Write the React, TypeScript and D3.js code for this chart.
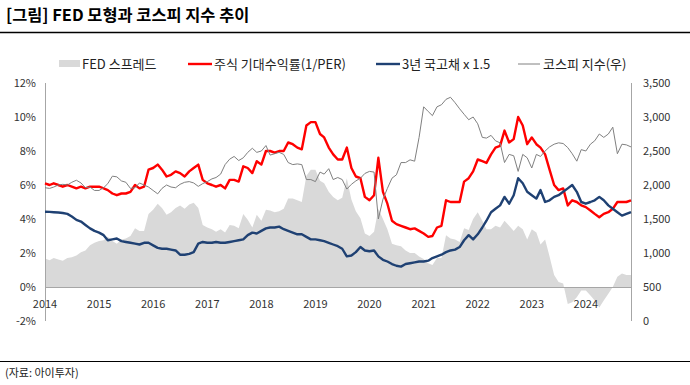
import React, { useEffect, useRef } from "react";
import * as d3 from "d3";

// monthly points, 2014-01 .. 2024-11
const months = d3.timeMonth.range(new Date(2014, 0, 1), new Date(2024, 11, 1));

const yearLabels = [2014, 2015, 2016, 2017, 2018, 2019, 2020, 2021, 2022, 2023, 2024];
const leftTicks = [-2, 0, 2, 4, 6, 8, 10, 12];
const rightTicks = [0, 500, 1000, 1500, 2000, 2500, 3000, 3500];

// 주식 기대수익률 (1/PER), %
const perYield = [
  6.1, 6.0, 6.1, 6.0, 5.9, 6.0, 5.9, 5.8, 5.9, 5.8, 5.9, 5.9,
  5.9, 5.8, 5.7, 5.5, 5.4, 5.5, 5.5, 5.6, 6.0, 5.8, 5.9, 6.9,
  7.0, 7.2, 6.9, 6.5, 6.6, 6.8, 6.7, 6.5, 6.8, 7.0, 7.2, 6.3,
  6.1, 6.0, 5.9, 6.0, 5.8, 6.3, 6.3, 6.2, 7.1, 7.0, 6.7, 7.4,
  7.2, 8.0, 8.0, 7.9, 8.0, 8.0, 8.5, 8.4, 8.2, 8.1, 9.5, 9.7,
  9.7, 9.0, 8.8, 8.2, 7.8, 7.5, 7.5, 8.2, 7.0, 6.5, 6.4, 5.3,
  5.1, 5.4, 7.6, 5.6, 4.9, 3.9, 3.7, 3.6, 3.5, 3.4, 3.45, 3.3,
  3.15, 2.95, 3.0, 3.5, 3.6, 5.1, 5.0, 5.0, 5.0, 6.2, 6.4, 6.8,
  7.5, 7.4, 7.3, 7.8, 8.2, 8.3, 9.2, 8.5, 8.7, 10.0, 9.5, 8.4,
  8.8, 8.4, 8.2, 7.8, 6.9, 6.0, 5.7, 5.8, 4.8, 5.1, 5.0, 4.8,
  4.7, 4.5, 4.3, 4.1, 4.3, 4.4, 4.6, 5.0, 5.0, 5.0, 5.1,
];

// 3년 국고채 x 1.5, %
const bond3y = [
  4.43, 4.42, 4.4, 4.38, 4.35, 4.3, 4.15, 3.95, 3.85, 3.65, 3.45, 3.3,
  3.2, 3.05, 2.75, 2.8, 2.85, 2.7, 2.65, 2.6, 2.55, 2.5, 2.6, 2.6,
  2.45, 2.3, 2.25, 2.25, 2.2, 2.15, 1.9, 1.9, 1.95, 2.05, 2.55, 2.65,
  2.6, 2.6, 2.65, 2.6, 2.6, 2.65, 2.7, 2.75, 2.8, 3.05, 3.2, 3.15,
  3.3, 3.45, 3.5, 3.5, 3.55, 3.4, 3.3, 3.2, 3.1, 3.1, 2.95, 2.8,
  2.8, 2.75, 2.7, 2.6, 2.5, 2.4, 2.25, 1.8, 1.85, 2.05, 2.35, 2.15,
  2.1, 2.15, 1.8, 1.6, 1.5, 1.35, 1.25, 1.2, 1.35, 1.4, 1.45, 1.5,
  1.5, 1.55, 1.7, 1.8, 1.9, 2.05, 2.15, 2.2, 2.35, 2.75, 3.05, 2.8,
  3.1, 3.5, 3.9, 4.4, 4.6, 4.8, 5.3, 4.9, 5.4, 6.4, 6.1, 5.6,
  5.4, 5.2, 5.7, 5.0, 5.1, 5.3, 5.4, 5.6, 5.8, 6.0, 5.6, 5.0,
  4.9, 5.0, 5.1, 5.3, 5.1, 4.8, 4.6, 4.4, 4.2, 4.3, 4.4,
];

// FED 스프레드, %
const fedSpread = [
  1.67, 1.58, 1.7, 1.62, 1.55, 1.7, 1.75, 1.85, 2.05, 2.15, 2.45, 2.6,
  2.7, 2.75, 2.95, 2.7, 2.55, 2.8, 2.85, 3.0, 3.45, 3.3, 3.3, 4.3,
  4.55, 4.9, 4.65, 4.25, 4.4, 4.65, 4.8, 4.6, 4.85, 4.95, 4.65, 3.65,
  3.5, 3.4, 3.25, 3.4, 3.2, 3.65, 3.6, 3.45, 4.3, 3.95, 3.5, 4.25,
  3.9, 4.55, 4.5, 4.4, 4.45, 4.6, 5.2, 5.2, 5.1, 5.0, 6.55, 6.9,
  6.9, 6.25, 6.1, 5.6, 5.3, 5.1, 5.25, 6.4, 5.15, 4.45, 4.05, 3.15,
  3.0, 3.25, 4.6, 4.0, 3.4, 2.55, 2.45, 2.4, 2.15, 2.0, 2.0, 1.8,
  1.65, 1.4, 1.3, 1.7, 1.7, 3.05, 2.85, 2.8, 2.65, 3.45, 3.35, 4.0,
  4.4, 3.9, 3.4, 3.4, 3.6, 3.5, 3.9, 3.6, 3.3, 3.6, 3.4, 2.8,
  3.4, 3.2, 2.5, 2.8, 1.8, 0.7, 0.3, 0.2, -1.0, -0.9, -0.6, -0.2,
  -0.2, -0.5, -0.8, -1.2, -0.8, -0.4, 0.0, 0.6, 0.8, 0.7, 0.7,
];

// 코스피 지수 (우)
const kospi = [
  1960, 1950, 1970, 2000, 2010, 2000, 2040, 2070, 2030, 1960, 1970, 1920,
  1920, 1960, 2020, 2130, 2120, 2060, 2040, 1950, 1960, 2030, 2000, 1970,
  1920, 1870, 1950, 2000, 1970, 1960, 2010, 2040, 2050, 2030, 1980, 2020,
  2050, 2090, 2110, 2160, 2300, 2380, 2420, 2360, 2400, 2480, 2540, 2480,
  2500, 2580, 2440, 2460, 2480, 2450, 2330, 2300, 2310, 2300, 2080, 2080,
  2050, 2190, 2160, 2240, 2080, 2110, 2080, 1940, 2010, 2060, 2100, 2170,
  2200, 2190, 1500, 1790, 1950, 2100, 2150, 2330, 2330, 2370, 2350, 2700,
  3150, 3080, 3020, 3150, 3180, 3260, 3290, 3210, 3120, 3040, 2960, 3000,
  2900, 2700, 2690, 2730, 2650, 2620, 2330, 2450, 2430, 2200, 2450, 2400,
  2250, 2450, 2420, 2500, 2560, 2600, 2620, 2610, 2550, 2460, 2350, 2520,
  2500, 2600, 2650, 2750, 2700, 2750, 2850, 2460, 2600, 2590, 2560,
];

const font = '"Noto Sans CJK KR", "Noto Sans", sans-serif';

function App() {
  const svgRef = useRef<SVGSVGElement>(null);

  useEffect(() => {
    const svg = d3.select(svgRef.current);
    svg.selectAll("*").remove();

    const plot = { left: 45, right: 631, top: 83, bottom: 321 };

    const x = d3
      .scaleTime()
      .domain([months[0], months[months.length - 1]])
      .range([plot.left, plot.right]);
    const yLeft = d3.scaleLinear().domain([-2, 12]).range([plot.bottom, plot.top]);
    const yRight = d3.scaleLinear().domain([0, 3500]).range([plot.bottom, plot.top]);

    // title + rules
    svg.append("text")
      .attr("x", 6)
      .attr("y", 21)
      .attr("font-family", font)
      .attr("font-size", 16.4)
      .attr("font-weight", "bold")
      .attr("fill", "#000")
      .text("[그림] FED 모형과 코스피 지수 추이");

    svg.append("line")
      .attr("x1", 0).attr("x2", 690)
      .attr("y1", 32.5).attr("y2", 32.5)
      .attr("stroke", "#000").attr("stroke-width", 1.3);

    svg.append("line")
      .attr("x1", 0).attr("x2", 690)
      .attr("y1", 361.5).attr("y2", 361.5)
      .attr("stroke", "#000").attr("stroke-width", 1);

    svg.append("text")
      .attr("x", 5)
      .attr("y", 377)
      .attr("font-family", font)
      .attr("font-size", 11)
      .attr("fill", "#222")
      .text("(자료: 아이투자)");

    // spread area
    const area = d3.area<number>()
      .x((d, i) => x(months[i]))
      .y0(yLeft(0))
      .y1((d) => yLeft(d));

    svg.append("path")
      .datum(fedSpread)
      .attr("d", area)
      .attr("fill", "#d9d9d9");

    // axis lines
    const axisColor = "#a6a6a6";
    svg.append("line")
      .attr("x1", plot.left + 0.5).attr("x2", plot.left + 0.5)
      .attr("y1", plot.top).attr("y2", plot.bottom)
      .attr("stroke", axisColor);
    svg.append("line")
      .attr("x1", plot.right + 0.5).attr("x2", plot.right + 0.5)
      .attr("y1", plot.top).attr("y2", plot.bottom)
      .attr("stroke", axisColor);
    svg.append("line")
      .attr("x1", plot.left).attr("x2", plot.right)
      .attr("y1", yLeft(0) + 0.5).attr("y2", yLeft(0) + 0.5)
      .attr("stroke", axisColor);

    // lines
    const lineLeft = d3.line<number>()
      .x((d, i) => x(months[i]))
      .y((d) => yLeft(d));
    const lineRight = d3.line<number>()
      .x((d, i) => x(months[i]))
      .y((d) => yRight(d));

    svg.append("path")
      .datum(perYield)
      .attr("d", lineLeft)
      .attr("fill", "none")
      .attr("stroke", "#ff0000")
      .attr("stroke-width", 2.4)
      .attr("stroke-linejoin", "round");

    svg.append("path")
      .datum(bond3y)
      .attr("d", lineLeft)
      .attr("fill", "none")
      .attr("stroke", "#1f4173")
      .attr("stroke-width", 2.4)
      .attr("stroke-linejoin", "round");

    svg.append("path")
      .datum(kospi)
      .attr("d", lineRight)
      .attr("fill", "none")
      .attr("stroke", "#808080")
      .attr("stroke-width", 1)
      .attr("stroke-linejoin", "round");

    // tick labels
    const labelColor = "#333";
    svg.append("g")
      .selectAll("text")
      .data(leftTicks)
      .join("text")
      .attr("x", 36)
      .attr("y", (d) => yLeft(d))
      .attr("dy", "0.35em")
      .attr("text-anchor", "end")
      .attr("font-family", font)
      .attr("font-size", 11)
      .attr("fill", labelColor)
      .text((d) => `${d}%`);

    svg.append("g")
      .selectAll("text")
      .data(rightTicks)
      .join("text")
      .attr("x", 643)
      .attr("y", (d) => yRight(d))
      .attr("dy", "0.35em")
      .attr("text-anchor", "start")
      .attr("font-family", font)
      .attr("font-size", 11)
      .attr("fill", labelColor)
      .text((d) => d3.format(",")(d));

    svg.append("g")
      .selectAll("text")
      .data(yearLabels)
      .join("text")
      .attr("x", (d) => x(new Date(d, 0, 1)))
      .attr("y", 308)
      .attr("text-anchor", "middle")
      .attr("font-family", font)
      .attr("font-size", 11)
      .attr("fill", labelColor)
      .text((d) => String(d));

    // legend
    const legendY = 64;
    const legend = svg.append("g")
      .attr("font-family", font)
      .attr("font-size", 13)
      .attr("fill", "#222");

    legend.append("rect")
      .attr("x", 59).attr("y", legendY - 4)
      .attr("width", 21).attr("height", 7)
      .attr("fill", "#d9d9d9");
    legend.append("text").attr("x", 82).attr("y", legendY).attr("dy", "0.35em").text("FED 스프레드");

    legend.append("line")
      .attr("x1", 188).attr("x2", 212)
      .attr("y1", legendY).attr("y2", legendY)
      .attr("stroke", "#ff0000").attr("stroke-width", 2.4);
    legend.append("text").attr("x", 214).attr("y", legendY).attr("dy", "0.35em").text("주식 기대수익률(1/PER)");

    legend.append("line")
      .attr("x1", 376).attr("x2", 400)
      .attr("y1", legendY).attr("y2", legendY)
      .attr("stroke", "#1f4173").attr("stroke-width", 2.4);
    legend.append("text").attr("x", 402).attr("y", legendY).attr("dy", "0.35em").text("3년 국고채 x 1.5");

    legend.append("line")
      .attr("x1", 518).attr("x2", 540)
      .attr("y1", legendY).attr("y2", legendY)
      .attr("stroke", "#808080").attr("stroke-width", 1);
    legend.append("text").attr("x", 543).attr("y", legendY).attr("dy", "0.35em").text("코스피 지수(우)");
  }, []);

  return (
    <svg
      ref={svgRef}
      width={690}
      height={385}
      style={{ position: "absolute", left: 0, top: 0, background: "#fff" }}
    />
  );
}

export default App;
